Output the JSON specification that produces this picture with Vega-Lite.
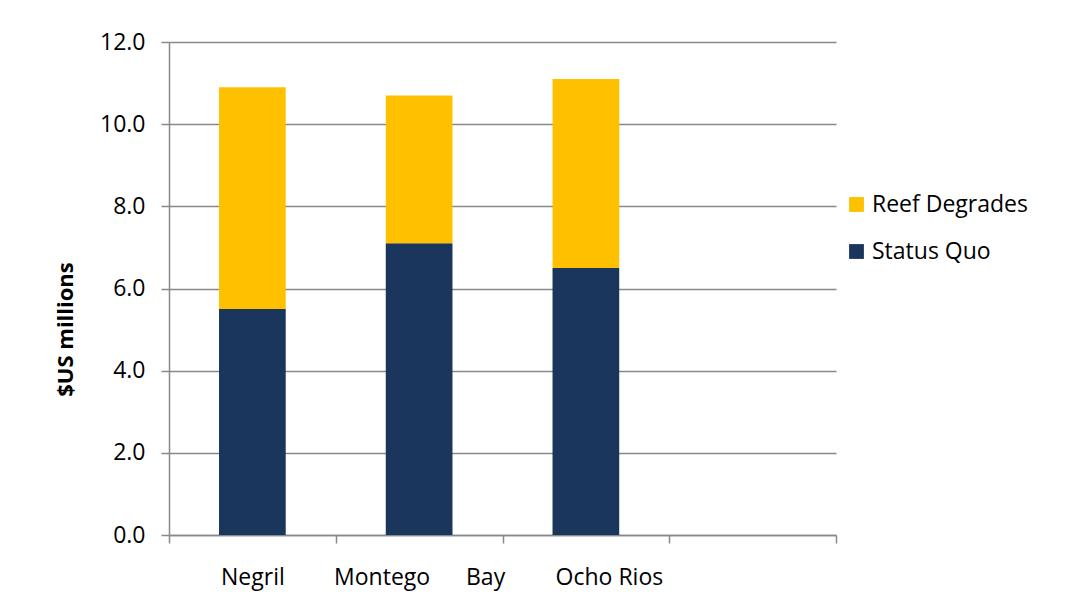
{
  "$schema": "https://vega.github.io/schema/vega-lite/v6.json",
  "width": 667,
  "height": 493,
  "autosize": {"type": "none"},
  "padding": {"left": 169, "top": 42, "right": 239, "bottom": 79},
  "background": "white",
  "config": {"view": {"stroke": null}, "font": "Open Sans"},
  "data": {
    "values": [
      {"location": "Negril", "series": "Status Quo", "value": 5.5},
      {"location": "Negril", "series": "Reef Degrades", "value": 5.4},
      {"location": "Montego Bay", "series": "Status Quo", "value": 7.1},
      {"location": "Montego Bay", "series": "Reef Degrades", "value": 3.6},
      {"location": "Ocho Rios", "series": "Status Quo", "value": 6.5},
      {"location": "Ocho Rios", "series": "Reef Degrades", "value": 4.6}
    ]
  },
  "mark": {"type": "bar", "width": {"band": 0.4}},
  "encoding": {
    "x": {
      "field": "location",
      "type": "nominal",
      "sort": null,
      "scale": {"domain": ["Negril", "Montego Bay", "Ocho Rios", ""], "paddingInner": 0, "paddingOuter": 0},
      "axis": {
        "title": null,
        "tickBand": "extent",
        "labelAngle": 0,
        "domainColor": "#898989",
        "domainWidth": 1.5,
        "tickColor": "#898989",
        "tickWidth": 1.5,
        "tickSize": 8,
        "labelPadding": 23,
        "labelFontSize": 23,
        "labelColor": "black",
        "grid": false,
        "labelOffset": {"condition": {"test": "datum.value == 'Ocho Rios'", "value": 23}, "value": 0},
        "labelExpr": "datum.value == 'Montego Bay' ? 'Montego\u00a0\u00a0\u00a0\u00a0\u00a0\u00a0Bay' : datum.label"
      }
    },
    "y": {
      "field": "value",
      "type": "quantitative",
      "stack": "zero",
      "scale": {"domain": [0, 12]},
      "axis": {
        "title": "$US millions",
        "values": [0, 2, 4, 6, 8, 10, 12],
        "format": ".1f",
        "grid": true,
        "gridColor": "#898989",
        "gridWidth": 1.5,
        "domainColor": "#898989",
        "domainWidth": 1.5,
        "tickColor": "#898989",
        "tickWidth": 1.5,
        "tickSize": 8,
        "labelPadding": 16,
        "labelFontSize": 23,
        "labelColor": "black",
        "titleFontSize": 22,
        "titleFontWeight": "bold",
        "titleColor": "black",
        "titlePadding": 22,
        "titleY": 287
      }
    },
    "color": {
      "field": "series",
      "type": "nominal",
      "scale": {"domain": ["Reef Degrades", "Status Quo"], "range": ["#FFC000", "#1B365D"]},
      "legend": {
        "title": null,
        "orient": "none",
        "legendX": 676,
        "legendY": 151,
        "symbolType": "square",
        "symbolSize": 220,
        "symbolStrokeWidth": 0,
        "labelFontSize": 23,
        "labelColor": "black",
        "labelOffset": 4,
        "rowPadding": 23
      }
    },
    "order": {"field": "series", "sort": "descending"}
  }
}
